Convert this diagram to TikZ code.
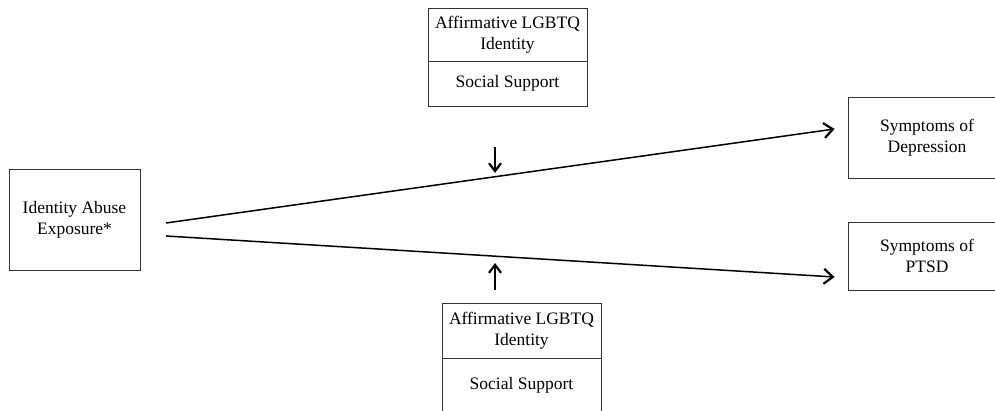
\documentclass[tikz,border=0pt]{standalone}
\usepackage{fontspec}
\setmainfont{Liberation Serif}
\usetikzlibrary{arrows.meta,calc}
\begin{document}
\begin{tikzpicture}[x=1pt,y=-1pt,
  box/.style={draw=black!80,line width=0.9pt,inner sep=0pt,align=center,
    font=\fontsize{17.5}{21}\selectfont},
  link/.style={line width=1.5pt,-{Straight Barb[length=9pt,width=15pt,line width=2.2pt]}},
  mod/.style={line width=1.5pt,-{Straight Barb[length=8pt,width=12pt,line width=2.2pt]}}]
\useasboundingbox (0,0) rectangle (995,411);
\begin{scope}
\clip (0,0) rectangle (995,411);
% left box
\node[box,minimum width=131pt,minimum height=101pt] (iae) at (74.5,219.5) {Identity Abuse\\Exposure*};
% top moderator box
\node[box,minimum width=159pt,minimum height=53pt] (topa) at (507.5,34.5) {Affirmative LGBTQ\\Identity};
\node[box,minimum width=159pt,minimum height=45pt] (tops) at (507.5,83.5) {Social Support};
% bottom moderator box
\node[box,minimum width=159pt,minimum height=55pt] (bota) at (521.5,330.5) {Affirmative LGBTQ\\Identity};
\node[box,minimum width=159pt,minimum height=55pt] (bots) at (521.5,385.5) {Social Support};
% outcome boxes
\node[box,minimum width=158pt,minimum height=81pt] (dep) at (927,137.5) {Symptoms of\\Depression};
\node[box,minimum width=158pt,minimum height=68pt] (ptsd) at (927,256) {Symptoms of\\PTSD};
\end{scope}
% connector coordinates
\coordinate (s1) at (166,223);
\coordinate (e1) at ($(dep.west)+(-13,-8.5)$);
\coordinate (s2) at (166,236);
\coordinate (e2) at ($(ptsd.west)+(-13,21)$);
\coordinate (m1s) at (495,147);
\coordinate (m1e) at (495,173);
\coordinate (m2s) at (495,290);
\coordinate (m2e) at (495,263);
\draw[link] (s1) -- (e1);
\draw[link] (s2) -- (e2);
\draw[mod] (m1s) -- (m1e);
\draw[mod] (m2s) -- (m2e);
\end{tikzpicture}
\end{document}
